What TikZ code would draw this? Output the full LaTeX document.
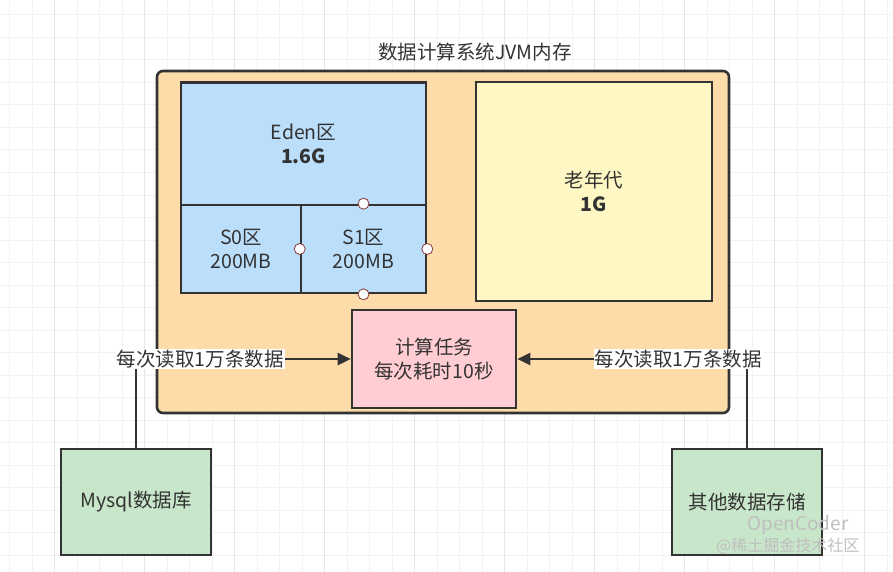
\documentclass[tikz,border=0pt]{standalone}
\usepackage{fontspec}
\setmainfont{Noto Sans CJK SC}
\usetikzlibrary{arrows.meta}
\definecolor{ink}{HTML}{333333}
\definecolor{orangebg}{HTML}{FDDCAA}
\definecolor{bluebg}{HTML}{BBDEFB}
\definecolor{yellowbg}{HTML}{FFF8C4}
\definecolor{pinkbg}{HTML}{FFCDD2}
\definecolor{greenbg}{HTML}{C8E6C9}
\definecolor{gridminor}{HTML}{F2F2F2}
\definecolor{gridmajor}{HTML}{E6E6E6}
\definecolor{handle}{HTML}{8A3A3A}
\tikzset{
  box/.style={draw=ink, line width=2.6pt, inner sep=0pt, align=center, text=ink,
    font=\fontsize{19.5}{23.5}\selectfont},
  handlept/.style={circle, draw=handle, fill=white, line width=0.8pt, minimum size=11pt, inner sep=0pt},
  flow/.style={draw=ink, line width=2.6pt, -{Triangle[length=13pt,width=12pt]}},
  flowlabel/.style={fill=white, text=ink, inner sep=1pt, font=\fontsize{19.5}{22}\selectfont},
}
\begin{document}
\begin{tikzpicture}[x=1pt,y=-1pt]
\useasboundingbox (0,0) rectangle (893,572);
\fill[white] (0,0) rectangle (893,572);
% grid
\foreach \i in {0,...,39} {
  \draw[gridminor, line width=1pt] ({9.5+22.5*\i},0) -- ({9.5+22.5*\i},572);
}
\foreach \j in {0,...,25} {
  \draw[gridminor, line width=1pt] (0,{15+22.5*\j}) -- (893,{15+22.5*\j});
}
\foreach \i in {0,...,9} {
  \draw[gridmajor, line width=1pt] ({54.5+90*\i},0) -- ({54.5+90*\i},572);
}
% title
\node[text=ink, font=\fontsize{19.5}{22}\selectfont] (title) at (475,52) {数据计算系统JVM内存};
% outer JVM box
\node[box, fill=orangebg, rounded corners=6pt, minimum width=572pt, minimum height=342pt] (jvm) at (443,242) {};
% eden / survivor
\node[box, fill=bluebg, minimum width=245pt, minimum height=123pt] (eden) at (303.5,144) {Eden区\\\textbf{1.6G}};
\node[box, fill=bluebg, minimum width=120pt, minimum height=88pt] (s0) at (241,249) {S0区\\200MB};
\node[box, fill=bluebg, minimum width=125pt, minimum height=88pt] (s1) at (363.5,249) {S1区\\200MB};
% old gen
\node[box, fill=yellowbg, minimum width=236pt, minimum height=219pt] (old) at (594,191.5) {老年代\\\textbf{1G}};
% task
\node[box, fill=pinkbg, minimum width=164pt, minimum height=98pt] (task) at (434,359) {计算任务\\每次耗时10秒};
% sources
\node[box, fill=greenbg, minimum width=150pt, minimum height=106pt] (mysql) at (136,502) {Mysql数据库};
\node[box, fill=greenbg, minimum width=150pt, minimum height=106pt] (other) at (747,502) {其他数据存储};
% handles
\node[handlept] (h1) at (s1.north) {};
\node[handlept] (h2) at (s1.west) {};
\node[handlept] (h3) at (s1.east) {};
\node[handlept] (h4) at (s1.south) {};
% connectors
\draw[flow] (mysql.north) |- node[flowlabel, pos=0.65] (lbl1) {每次读取1万条数据} (task.west);
\draw[flow] (other.north) |- node[flowlabel, pos=0.65] (lbl2) {每次读取1万条数据} (task.east);
% watermark
\node[text=gray!50, inner sep=0pt, font=\fontsize{19}{20}\selectfont, anchor=west] (wm1) at (747,525) {OpenCoder};
\node[text=gray!50, inner sep=0pt, font=\fontsize{16}{18}\selectfont, anchor=west] (wm2) at (716,546) {@稀土掘金技术社区};
\end{tikzpicture}
\end{document}
